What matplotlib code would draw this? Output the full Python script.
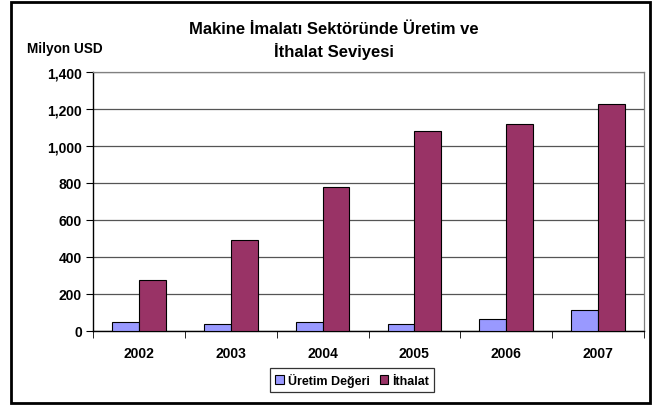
import matplotlib.pyplot as plt
import numpy as np
from matplotlib.patches import Rectangle

plt.rcParams['font.family'] = ['Liberation Sans', 'DejaVu Sans']
plt.rcParams['font.weight'] = 'bold'

years = ['2002', '2003', '2004', '2005', '2006', '2007']
uretim = [47, 38, 47, 38, 67, 114]
ithalat = [273, 492, 776, 1079, 1119, 1229]

fig = plt.figure(figsize=(6.55, 4.06), dpi=100)
ax = fig.add_axes([93 / 655, 1 - 332 / 406, 551 / 655, 259 / 406])

x = np.arange(len(years))
w = 0.293
ax.bar(x - w / 2, uretim, w, color='#9999FF', edgecolor='black', linewidth=0.8,
       label='Üretim Değeri', zorder=3)
ax.bar(x + w / 2, ithalat, w, color='#993366', edgecolor='black', linewidth=0.8,
       label='İthalat', zorder=3)

ax.set_xlim(-0.5, len(years) - 0.5)
ax.set_ylim(0, 1400)
ax.set_yticks(range(0, 1401, 200))
ax.set_yticklabels([f'{v:,}' for v in range(0, 1401, 200)], fontsize=10, fontweight='bold')
ax.yaxis.grid(True, color='#555555', linewidth=0.9, zorder=0)

# year labels in the middle, ticks between categories
ax.set_xticks(x)
ax.set_xticklabels(years, fontsize=10, fontweight='bold')
ax.tick_params(axis='x', length=0, pad=11)
ax.set_xticks(np.arange(-0.5, len(years)), minor=True)
ax.tick_params(axis='x', which='minor', length=5, direction='out', color='black')
ax.tick_params(axis='y', length=5, direction='out', color='black', pad=3)

for s in ['top', 'right']:
    ax.spines[s].set_color('#808080')
    ax.spines[s].set_linewidth(0.9)
for s in ['left', 'bottom']:
    ax.spines[s].set_color('black')
    ax.spines[s].set_linewidth(1.0)

fig.text(334 / 655, 1 - 29 / 406, 'Makine İmalatı Sektöründe Üretim ve',
         ha='center', va='center', fontsize=12, fontweight='bold')
fig.text(334 / 655, 1 - 52 / 406, 'İthalat Seviyesi',
         ha='center', va='center', fontsize=12, fontweight='bold')
fig.text(27 / 655, 1 - 49 / 406, 'Milyon USD', ha='left', va='center',
         fontsize=9.8, fontweight='bold')

leg = fig.legend(loc='center', bbox_to_anchor=(352 / 655, 1 - 381 / 406), ncol=2,
                 frameon=True, fancybox=False, edgecolor='black', fontsize=9,
                 handlelength=0.7, handleheight=0.7, handletextpad=0.3,
                 columnspacing=0.8, borderpad=0.4, borderaxespad=0)
leg.get_frame().set_linewidth(0.9)
for t in leg.get_texts():
    t.set_fontweight('bold')

fig.patches.append(Rectangle((11 / 655, 1 - 404 / 406), 639 / 655, 401 / 406,
                             transform=fig.transFigure, fill=False,
                             edgecolor='black', linewidth=2))

fig.savefig('out.png', dpi=100)
